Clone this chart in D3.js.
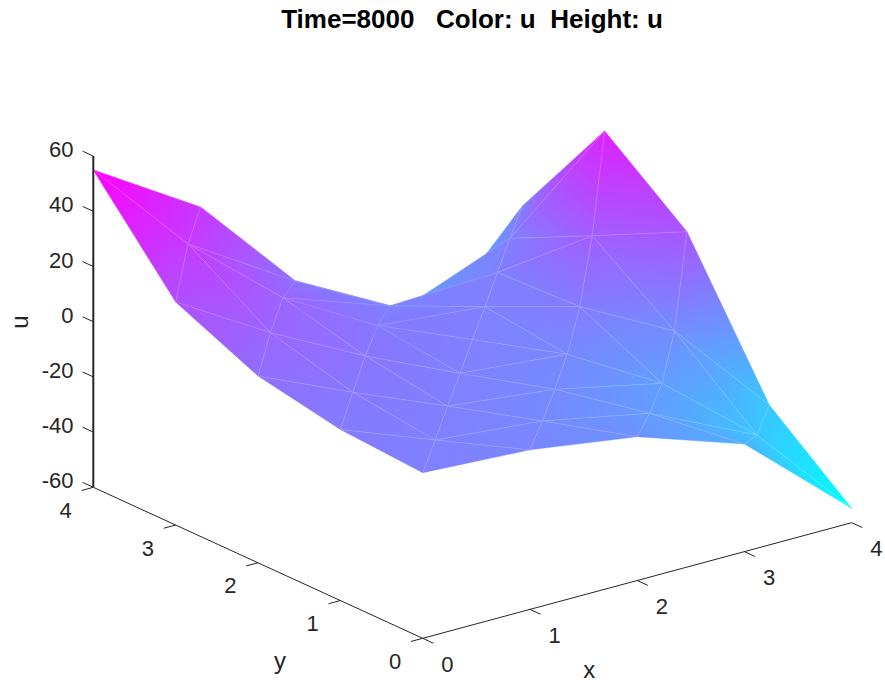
<!DOCTYPE html>
<html><head><meta charset="utf-8">
<script src="https://cdnjs.cloudflare.com/ajax/libs/d3/7.8.5/d3.min.js"></script>
<style>html,body{margin:0;padding:0;background:#fff}svg{display:block}text{font-family:"Liberation Sans",Arial,sans-serif;fill:#262626}</style>
</head><body><svg id="c" width="885" height="682"></svg>
<script>
// ---- data ----
const titleText = "Time=8000   Color: u  Height: u";
const xTicks = [0,1,2,3,4];
const yTicks = [0,1,2,3,4];
const zTicks = [-60,-40,-20,0,20,40,60];
// u at integer mesh nodes: row = y (0..4), column = x (0..4)
const uGrid = [
  [ 0.0, -2.2, -7.9, -21.0, -54.8],
  [ 2.0,  0.0, -4.4, -12.7, -31.0],
  [ 7.7,  4.5,  0.0,   1.4,  18.1],
  [20.8, 11.9, -1.5,   0.1,  40.9],
  [55.0, 31.1, -20.0, -41.0,  0.0]
];
// u at cell-centre mesh nodes: row = y-0.5 (0..3), column = x-0.5 (0..3)
const uCentre = [
  [-0.2, -3.8, -11.5, -29.8],
  [ 3.4, -0.2,  -3.8,  -5.8],
  [11.3,  3.4,  -0.2,  15.0],
  [29.8,  5.9, -14.8,   0.4]
];
// split direction of mesh diamonds centred on (i+.5, j), j=1..3, i=0..3
const splitsA = ["yxxy","yyyy","yxxy"];
// split direction of mesh diamonds centred on (i, j+.5), i=1..3, j=0..3
const splitsB = ["xyyx","xxxx","xyyx"];

// ---- projection scales ----
const origin = [422.7, 638.3];
const sxX = d3.scaleLinear().domain([0,4]).range([0,429]);
const sxY = d3.scaleLinear().domain([0,4]).range([0,-115.6]);
const syX = d3.scaleLinear().domain([0,4]).range([0,-329.4]);
const syY = d3.scaleLinear().domain([0,4]).range([0,-151]);
const szY = d3.scaleLinear().domain([-60,60]).range([0,-331.2]);
const px = (x,y) => origin[0]+sxX(x)+syX(y);
const py = (x,y,z) => origin[1]+sxY(x)+syY(y)+szY(z);
const depth = (x,y,z) => 0.936*(0.609*x+0.793*y)-0.00765*z;
const color = d3.scaleLinear().domain([-55,55]).range(["#00ffff","#ff00ff"]);

const svg = d3.select("#c");
const defs = svg.append("defs");

// ---- mesh ----
const G = (i,j)=>({x:i,y:j,z:uGrid[j][i]});
const C = (i,j)=>({x:i+.5,y:j+.5,z:uCentre[j][i]});
const tris = [];
for(let i=0;i<4;i++){
  tris.push([G(i,0),G(i+1,0),C(i,0)]);
  tris.push([G(i,4),G(i+1,4),C(i,3)]);
  tris.push([G(0,i),G(0,i+1),C(0,i)]);
  tris.push([G(4,i),G(4,i+1),C(3,i)]);
}
splitsA.forEach((s,r)=>{const j=r+1;
  [...s].forEach((d,i)=>{
    const a=G(i,j),b=G(i+1,j),t=C(i,j),u=C(i,j-1);
    if(d==="x"){tris.push([a,b,t]);tris.push([a,b,u]);}
    else{tris.push([t,u,a]);tris.push([t,u,b]);}
  });
});
splitsB.forEach((s,r)=>{const i=r+1;
  [...s].forEach((d,j)=>{
    const a=G(i,j),b=G(i,j+1),l=C(i-1,j),rr=C(i,j);
    if(d==="y"){tris.push([a,b,l]);tris.push([a,b,rr]);}
    else{tris.push([l,rr,a]);tris.push([l,rr,b]);}
  });
});

const line=d3.line().x(d=>px(d.x,d.y)).y(d=>py(d.x,d.y,d.z));
// Interpolated colour: u is affine in screen space on a triangle, so a linear gradient is exact.
function paint(t,id){
  const P=t.map(v=>[px(v.x,v.y),py(v.x,v.y,v.z),v.z]);
  const ux=P[1][0]-P[0][0],uy=P[1][1]-P[0][1],vx=P[2][0]-P[0][0],vy=P[2][1]-P[0][1];
  const dz1=P[1][2]-P[0][2],dz2=P[2][2]-P[0][2],det=ux*vy-uy*vx;
  const a=(dz1*vy-dz2*uy)/det,b=(ux*dz2-vx*dz1)/det;
  const lo=P.reduce((m,p)=>p[2]<m[2]?p:m),hi=P.reduce((m,p)=>p[2]>m[2]?p:m);
  const n=a*a+b*b;
  if(n<1e-12||hi[2]-lo[2]<1e-9) return color(lo[2]);
  const k=(hi[2]-lo[2])/n;
  const g=defs.append("linearGradient").attr("id",id).attr("gradientUnits","userSpaceOnUse")
    .attr("x1",lo[0]).attr("y1",lo[1]).attr("x2",lo[0]+a*k).attr("y2",lo[1]+b*k);
  g.append("stop").attr("offset",0).attr("stop-color",color(lo[2]));
  g.append("stop").attr("offset",1).attr("stop-color",color(hi[2]));
  return `url(#${id})`;
}
const edgeId=(a,b)=>[[a.x,a.y],[b.x,b.y]].sort((p,q)=>p[0]-q[0]||p[1]-q[1]).join("|");
const edgeCount=new Map();
tris.forEach(t=>[[0,1],[1,2],[2,0]].forEach(([p,q])=>{const k=edgeId(t[p],t[q]);edgeCount.set(k,(edgeCount.get(k)||0)+1);}));
const sorted=tris.map(t=>({t,d:d3.mean(t,q=>depth(q.x,q.y,q.z))})).sort((a,b)=>b.d-a.d);
const surf=svg.append("g");
const painted=new Map();
sorted.forEach(({t},i)=>{
  const f=paint(t,"g"+i);
  surf.append("path").datum(t).attr("d",line(t)+"Z").attr("fill",f).attr("stroke",f).attr("stroke-width",0.45);
  [[0,1],[1,2],[2,0]].forEach(([p,q])=>{
    const k=edgeId(t[p],t[q]);
    painted.set(k,(painted.get(k)||0)+1);
    // an inner edge is drawn once, after both of its triangles are down
    if(edgeCount.get(k)===2&&painted.get(k)===2){
      surf.append("path").datum([t[p],t[q]]).attr("d",line([t[p],t[q]])).attr("fill","none")
        .attr("stroke","#fff").attr("stroke-opacity",0.27).attr("stroke-width",0.55);
    }
  });
});

// ---- axes ----
const ax=svg.append("g").attr("stroke","#262626").attr("fill","none");
const seg=(a,b,w)=>ax.append("path").attr("d",line([a,b])).attr("stroke-width",w);
seg({x:0,y:0,z:-60},{x:4,y:0,z:-60},1);
seg({x:0,y:0,z:-60},{x:0,y:4,z:-60},1);
seg({x:0,y:4,z:-60},{x:0,y:4,z:60},2);
xTicks.forEach(t=>seg({x:t,y:0,z:-60},{x:t,y:-0.13,z:-60},1));
yTicks.forEach(t=>seg({x:0,y:t,z:-60},{x:-0.11,y:t,z:-60},1));
zTicks.forEach(t=>seg({x:0,y:4,z:t},{x:0,y:4.13,z:t},1));

const lab=svg.append("g").attr("font-size",22);
const tx=(s,x,y,a)=>lab.append("text").text(s).attr("x",x).attr("y",y).attr("text-anchor",a||"middle").attr("dominant-baseline","central");
xTicks.forEach(t=>tx(t,px(t,0)+24.6,py(t,0,-60)+25.7));
yTicks.forEach(t=>tx(t,px(0,t)-27.7,py(0,t,-60)+23));
zTicks.forEach(t=>tx(t,73.5,py(0,4,t)-6.5,"end"));
tx("x",589.3,669.5).attr("font-size",24);
tx("y",280,660).attr("font-size",24);
lab.append("text").text("u").attr("font-size",24).attr("transform","translate(19,322) rotate(-90)").attr("text-anchor","middle").attr("dominant-baseline","central");

svg.append("text").text(titleText).attr("x",472).attr("y",19).attr("text-anchor","middle")
  .attr("dominant-baseline","central").attr("font-size",26).attr("font-weight","bold")
  .style("fill","#000").style("white-space","pre");
</script></body></html>
